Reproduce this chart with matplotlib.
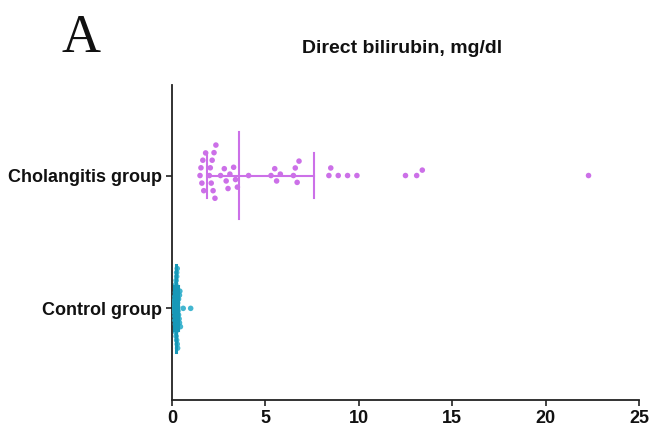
import numpy as np
import matplotlib
matplotlib.use("Agg")
import matplotlib.pyplot as plt

plt.rcParams['font.family'] = ['Liberation Sans', 'DejaVu Sans']

# values (mg/dl)
groups = ["Control group", "Cholangitis group"]
cholangitis = [1.5, 1.55, 1.6, 1.65, 1.7, 1.8,
               2.0, 2.05, 2.1, 2.15, 2.2, 2.25, 2.3, 2.35,
               2.6, 2.8, 2.9, 3.0, 3.1, 3.3, 3.4, 3.5,
               4.1, 5.3, 5.5, 5.6, 5.8, 6.5, 6.6, 6.7, 6.8,
               8.4, 8.5, 8.9, 9.4, 9.9, 12.5, 13.1, 13.4, 22.3]
control = [0.1, 0.1, 0.12, 0.12, 0.15, 0.15, 0.15, 0.18, 0.18, 0.2, 0.2, 0.2,
           0.2, 0.22, 0.22, 0.25, 0.25, 0.25, 0.28, 0.28, 0.3, 0.3, 0.3, 0.32,
           0.35, 0.35, 0.38, 0.4, 0.4, 0.42, 0.45, 0.6, 1.0]
# median, lower quartile, upper quartile
chol_stats = [3.6, 1.9, 7.6]
ctrl_stats = [0.2, 0.12, 0.35]

purple = "#cc70e8"
teal = "#22aac8"
line_teal = "#1798b8"

fig = plt.figure(figsize=(6.54, 4.30), dpi=100)
ax = fig.add_axes([0.263, 0.0698, 0.714, 0.732])
ax.set_xlim(0, 25)
ax.set_ylim(-0.69, 1.68)


def swarm(vals, ypos, d):
    # simple beeswarm in pixel space
    t = ax.transData
    placed = []
    offs = []
    for v in vals:
        px, py0 = t.transform((v, ypos))
        cands = [0.0]
        for qx, qy in placed:
            dx = abs(px - qx)
            if dx < d:
                dy = np.sqrt(d * d - dx * dx)
                cands += [qy + dy, qy - dy]
        cands.sort(key=abs)
        for c in cands:
            ok = all((px - qx) ** 2 + (c - qy) ** 2 >= d * d - 1e-6 for qx, qy in placed)
            if ok:
                break
        placed.append((px, c))
        _, yy = t.inverted().transform((px, py0 + c))
        offs.append(yy)
    return np.array(offs)


ys_c = swarm(sorted(cholangitis), 1, 7.8)
ax.scatter(sorted(cholangitis), ys_c, s=16, color=purple, edgecolors='none', zorder=3)
ys_k = swarm(sorted(control), 0, 4.0)
ax.scatter(sorted(control), ys_k, s=16, color=teal, edgecolors='none', alpha=0.85, zorder=3)


def summary(stats, ypos, col, lw):
    med, q1, q3 = stats
    ax.plot([med, med], [ypos - 0.33, ypos + 0.33], color=col, lw=lw, zorder=4)
    ax.plot([q1, q1], [ypos - 0.17, ypos + 0.17], color=col, lw=1.5, zorder=4)
    ax.plot([q3, q3], [ypos - 0.17, ypos + 0.17], color=col, lw=1.5, zorder=4)
    ax.plot([q1, q3], [ypos, ypos], color=col, lw=1.5, zorder=4)


summary(chol_stats, 1, purple, 1.5)
summary(ctrl_stats, 0, line_teal, 2.2)

for s in ['top', 'right']:
    ax.spines[s].set_visible(False)
for s in ['left', 'bottom']:
    ax.spines[s].set_linewidth(1.3)
    ax.spines[s].set_color('#222222')

ax.set_xticks([0, 5, 10, 15, 20, 25])
ax.set_yticks([0, 1])
ax.set_yticklabels(groups)
ax.tick_params(axis='both', length=4, width=1.2, colors='#222222', labelsize=13, pad=3)
for lab in ax.get_xticklabels() + ax.get_yticklabels():
    lab.set_fontweight('bold')
    lab.set_color('#111111')

fig.text(0.615, 0.888, "Direct bilirubin, mg/dl", ha='center', va='center',
         fontsize=14, fontweight='bold', color='#111111')
fig.text(0.124, 0.91, "A", ha='center', va='center', fontsize=39,
         family='Liberation Serif', color='#111111')

fig.savefig("out.png", dpi=100)
